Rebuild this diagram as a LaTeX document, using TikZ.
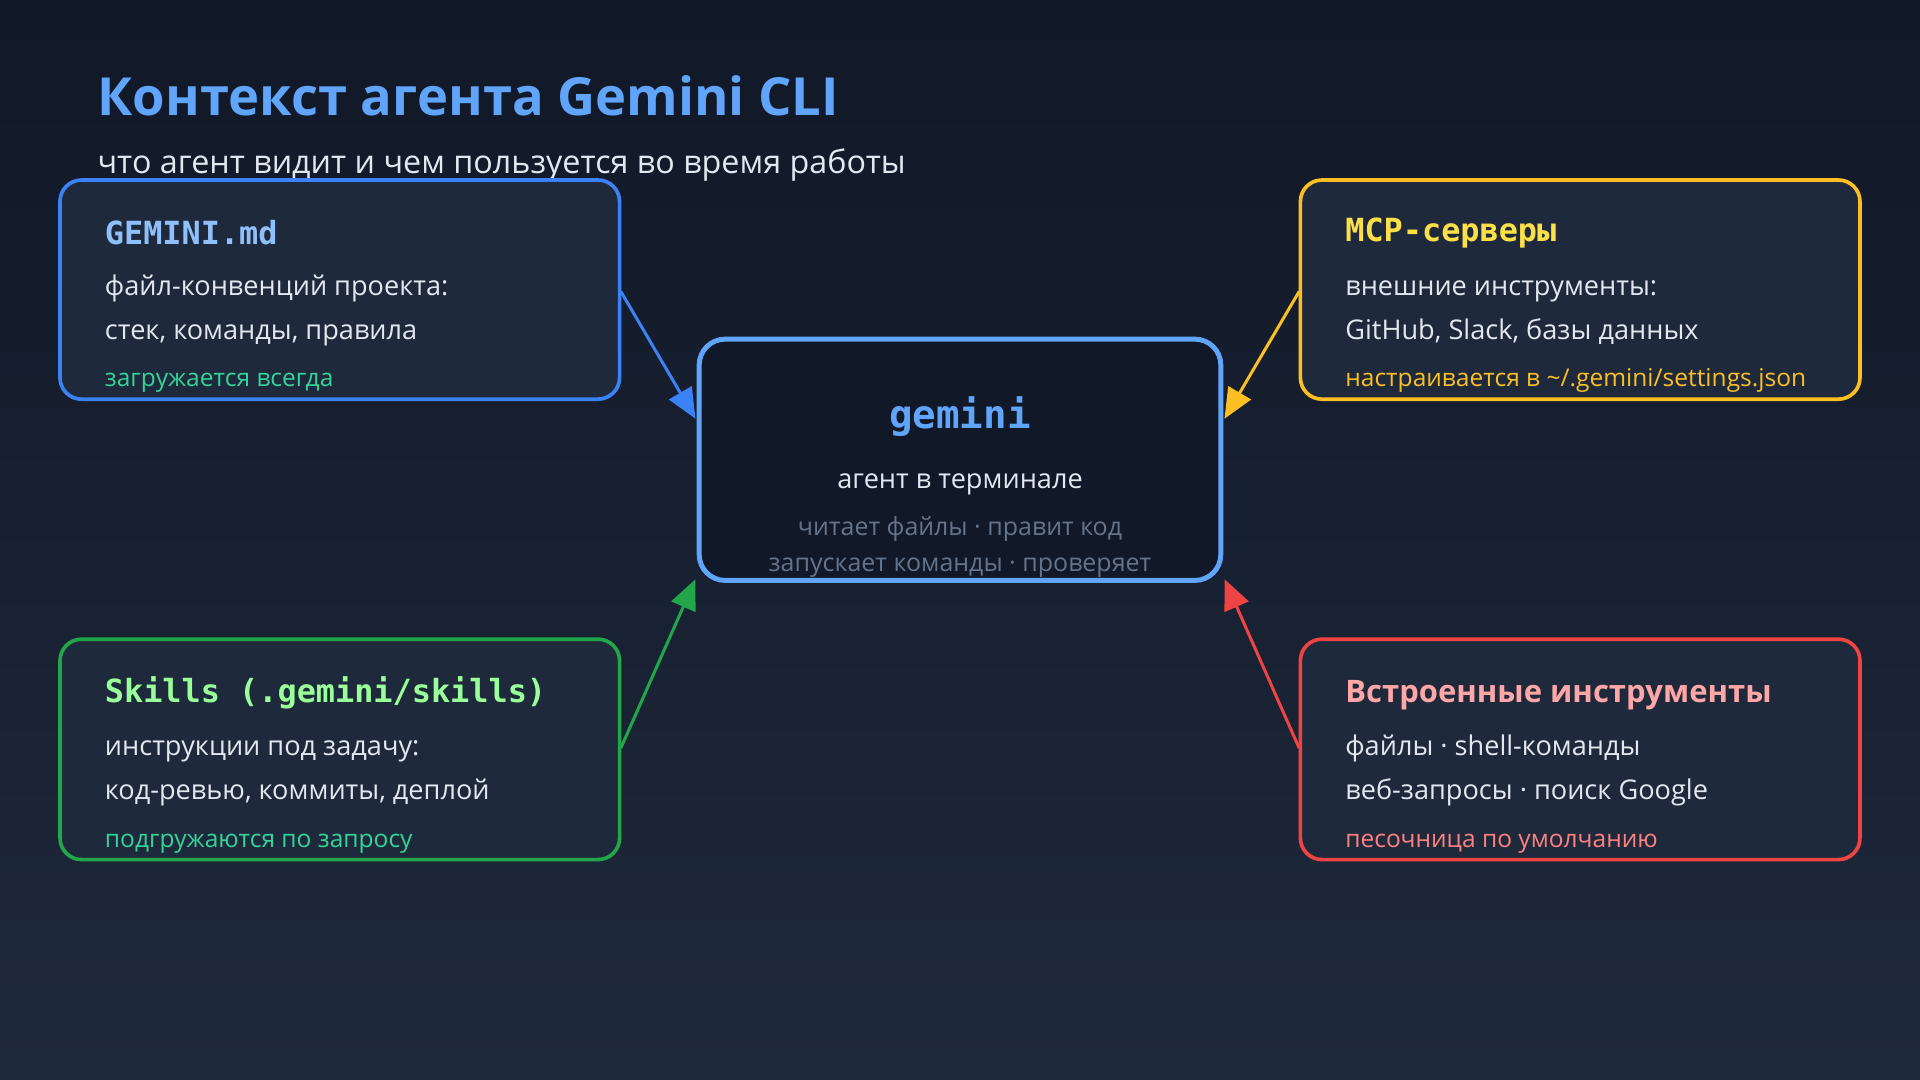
\documentclass[tikz,border=0pt]{standalone}
\usepackage{fontspec}
\setmainfont{Open Sans}
\newfontfamily\monof{DejaVu Sans Mono}
\usetikzlibrary{arrows.meta}
\definecolor{bgA}{HTML}{111827}
\definecolor{bgB}{HTML}{1E293B}
\definecolor{boxf}{HTML}{1E293B}
\definecolor{cblue}{HTML}{3B82F6}
\definecolor{cyel}{HTML}{FBBF24}
\definecolor{cgreen}{HTML}{22A64A}
\definecolor{cred}{HTML}{EF4444}
\definecolor{ttl}{HTML}{60A5FA}
\definecolor{txt}{HTML}{E2E8F0}
\definecolor{dim}{HTML}{64748B}
\definecolor{teal}{HTML}{34D399}
\definecolor{hyel}{HTML}{FDE047}
\begin{document}
\begin{tikzpicture}[x=0.01cm,y=-0.01cm,
  box/.style={draw,line width=0.85pt,fill=boxf,rounded corners=5pt},
  hd/.style={anchor=west,inner sep=0,font=\monof\bfseries\fontsize{7.4}{8}\selectfont},
  bd/.style={anchor=base west,inner sep=0,text=txt,font=\fontsize{6.3}{7}\selectfont},
  nt/.style={anchor=base west,inner sep=0,font=\fontsize{5.7}{6}\selectfont},
  arr/.style={line width=0.7pt,-{Triangle[length=7pt,width=6pt]}}]
\shade[top color=bgA,bottom color=bgB] (0,0) rectangle (1568,882);
\useasboundingbox (0,0) rectangle (1568,882);
\node[anchor=base west,inner sep=0,text=ttl,font=\bfseries\fontsize{12.2}{14}\selectfont] (title) at (79,94) {Контекст агента Gemini CLI};
\node[anchor=base west,inner sep=0,text=txt,font=\fontsize{7.5}{8}\selectfont] (sub) at (79,142) {что агент видит и чем пользуется во время работы};
% boxes
\path[box,draw=cblue] (49,147) rectangle (506,326);
\path[box,draw=cyel] (1062,147) rectangle (1519,326);
\path[box,draw=cgreen] (49,522) rectangle (506,702);
\path[box,draw=cred] (1062,522) rectangle (1519,702);
\path[draw=ttl,line width=1.15pt,fill=bgA,rounded corners=6pt] (571,277) rectangle (997,474);
% anchors
\coordinate (g1) at (507,238); \coordinate (g2) at (1061,238);
\coordinate (g3) at (507,611); \coordinate (g4) at (1061,611);
\coordinate (c1) at (568,342); \coordinate (c2) at (1000,342);
\coordinate (c3) at (568,473); \coordinate (c4) at (1000,473);
\draw[arr,cblue] (g1) -- (c1);
\draw[arr,cyel] (g2) -- (c2);
\draw[arr,cgreen] (g3) -- (c3);
\draw[arr,cred] (g4) -- (c4);
% texts
\node[hd,text=ttl!70!white] (h1) at (85,190) {GEMINI.md};
\node[bd] (t11) at (85,241) {файл-конвенций проекта:};
\node[bd] (t12) at (85,277) {стек, команды, правила};
\node[nt,text=teal] (n1) at (85,316) {загружается всегда};
\node[hd,text=hyel] (h2) at (1098,190) {MCP-серверы};
\node[bd] (t21) at (1098,241) {внешние инструменты:};
\node[bd] (t22) at (1098,277) {GitHub, Slack, базы данных};
\node[nt,text=cyel] (n2) at (1098,316) {настраивается в \textasciitilde/.gemini/settings.json};
\node[hd,text=green!40!white] (h3) at (85,566) {Skills (.gemini/skills)};
\node[bd] (t31) at (85,617) {инструкции под задачу:};
\node[bd] (t32) at (85,653) {код-ревью, коммиты, деплой};
\node[nt,text=teal] (n3) at (85,692) {подгружаются по запросу};
\node[anchor=base west,inner sep=0,text=red!35!white,font=\bfseries\fontsize{7.2}{8}\selectfont] (h4) at (1098,574) {Встроенные инструменты};
\node[bd] (t41) at (1098,617) {файлы · shell-команды};
\node[bd] (t42) at (1098,653) {веб-запросы · поиск Google};
\node[nt,text=red!50!white] (n4) at (1098,692) {песочница по умолчанию};
\node[inner sep=0,text=ttl,font=\monof\bfseries\fontsize{9.1}{10}\selectfont] (gm) at (784,340) {gemini};
\node[anchor=base,inner sep=0,text=txt,font=\fontsize{6.3}{7}\selectfont] (ag) at (784,399) {агент в терминале};
\node[anchor=base,inner sep=0,text=dim,font=\fontsize{5.8}{6}\selectfont] (d1) at (784,437) {читает файлы · правит код};
\node[anchor=base,inner sep=0,text=dim,font=\fontsize{5.8}{6}\selectfont] (d2) at (784,467) {запускает команды · проверяет};
\end{tikzpicture}
\end{document}
